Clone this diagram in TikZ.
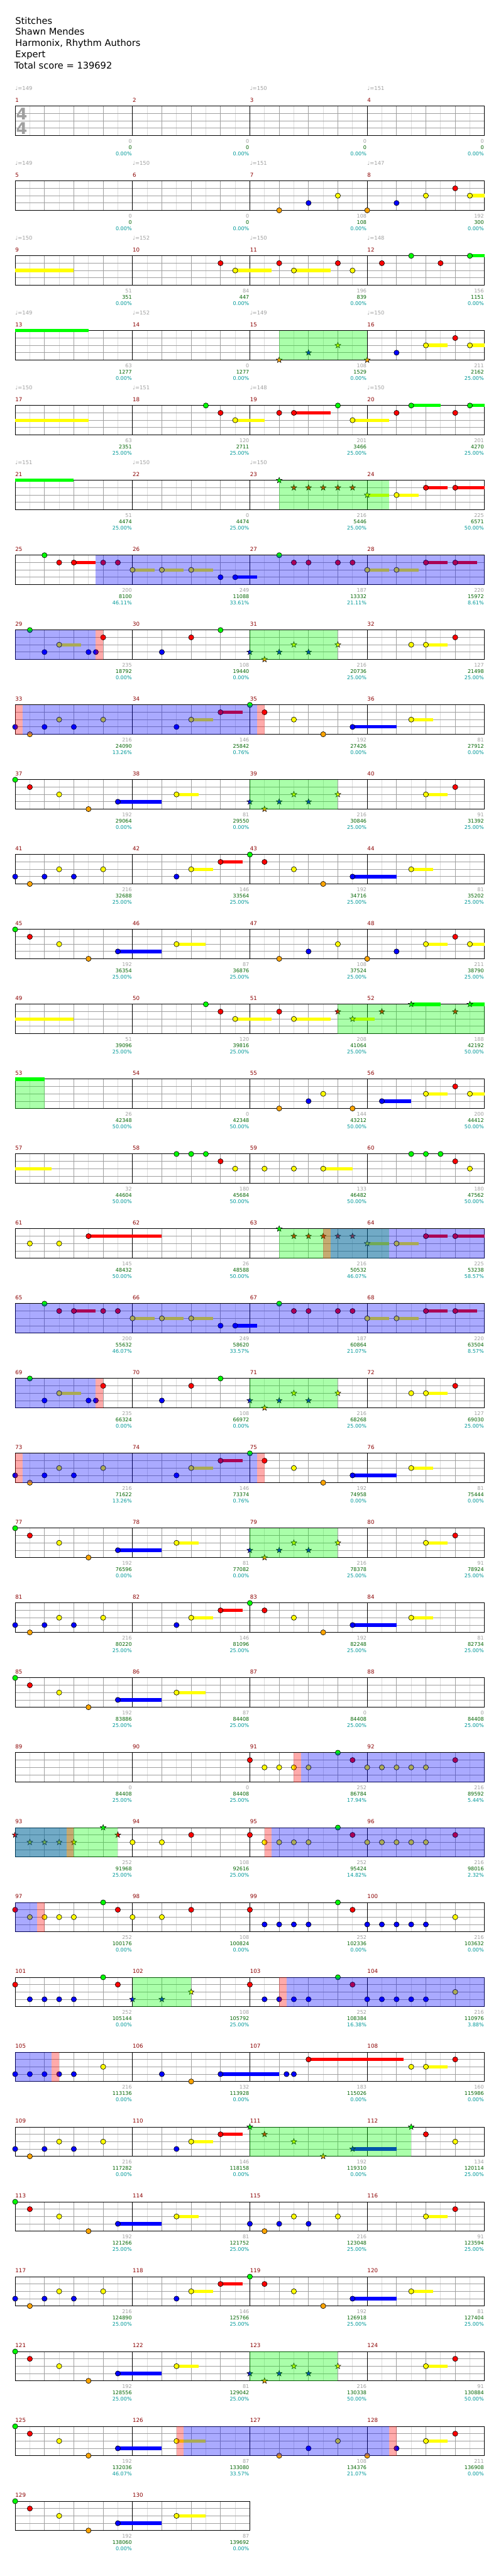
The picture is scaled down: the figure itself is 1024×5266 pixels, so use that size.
\documentclass[tikz,border=0pt]{standalone}
\usepackage{fontspec}
\setmainfont{DejaVu Sans}
\usetikzlibrary{shapes.geometric}
\definecolor{lc0}{RGB}{0,255,0}
\definecolor{lc1}{RGB}{255,0,0}
\definecolor{lc2}{RGB}{255,255,0}
\definecolor{lc3}{RGB}{0,0,255}
\definecolor{lc4}{RGB}{255,165,0}
\definecolor{gridd}{RGB}{160,160,160}
\definecolor{gridl}{RGB}{220,220,220}
\definecolor{txgrey}{RGB}{160,160,160}
\definecolor{txgreen}{RGB}{0,100,0}
\definecolor{txcyan}{RGB}{0,153,153}
\definecolor{mnum}{RGB}{139,0,0}
\definecolor{hlg}{RGB}{0,255,0}
\definecolor{hlb}{RGB}{0,0,255}
\definecolor{hlp}{RGB}{255,0,0}
\tikzset{
  starn/.style={star,star points=5,star point ratio=2.4,minimum size=6.2pt,inner sep=0pt,draw=black,line width=0.35pt},
  sttxt/.style={inner sep=0pt,font=\fontsize{5.2}{5.2}\selectfont},
  numtxt/.style={anchor=base west,inner sep=0pt,text=mnum,font=\fontsize{5.6}{5.6}\selectfont},
  tmptxt/.style={anchor=base west,inner sep=0pt,text=txgrey,font=\fontsize{5.4}{5.4}\selectfont},
  ttl/.style={anchor=base west,inner sep=0pt,font=\fontsize{9.4}{9.4}\selectfont}
}
% row: index, number of measures
\newcommand\Rw[2]{%
  \pgfmathsetmacro\ty{217+153*#1}%
  \pgfmathsetmacro\rx{31+240*#2}%
  \pgfmathtruncatemacro\nl{8*#2-1}%
  \fill[white] (31,\ty) rectangle (\rx,\ty+60);
  \foreach \i in {1,3,...,\nl}{\draw[gridl,line width=0.5pt] (31+30*\i,\ty) -- ++(0,60);}
  \foreach \j in {1,2,3}{\draw[gridd,line width=0.5pt] (31,\ty+15*\j) -- (\rx,\ty+15*\j);}
  \foreach \i in {2,4,...,\nl}{%
    \pgfmathtruncatemacro\mb{mod(\i,8)}%
    \ifnum\mb=0 \draw[black,line width=0.5pt] (31+30*\i,\ty) -- ++(0,60);
    \else \draw[gridd,line width=0.5pt] (31+30*\i,\ty) -- ++(0,60);\fi}
  \draw[black,line width=0.6pt] (31,\ty) rectangle (\rx,\ty+60);
}
% notes: row, lane, list of 16th positions
\newcommand\Nt[3]{\foreach \q in {#3}{\filldraw[fill=lc#2,draw=black,line width=0.4pt] (31+15*\q,217+153*#1+15*#2) circle (5.3);}}
\newcommand\St[3]{\foreach \q in {#3}{\node[starn,fill=lc#2] at (31+15*\q,217+153*#1+15*#2) {};}}
% sustain: row, lane, from, to
\newcommand\Su[4]{\fill[lc#2] (31+15*#3,217+153*#1+15*#2-3.4) rectangle (31+15*#4,217+153*#1+15*#2+3.4);}
% highlight: row, from, to, colour
\newcommand\Hl[4]{\fill[#4,fill opacity=0.3333] (31+15*#2,217+153*#1) rectangle (31+15*#3,217+153*#1+60);}
% measure number and stats: row, k, grey, green, pct
\newcommand\Ms[5]{%
  \node[numtxt] at (31+240*#2,217+153*#1-8) {\the\numexpr 4*#1+#2+1\relax};
  \node[sttxt,anchor=base east,text=txgrey] at (270+240*#2,217+153*#1+75) {#3};
  \node[sttxt,anchor=base east,text=txgreen] at (270+240*#2,217+153*#1+88) {#4};
  \node[sttxt,anchor=base east,text=txcyan] at (270+240*#2,217+153*#1+101) {#5};}
\newcommand\Tp[3]{\node[tmptxt] at (31+240*#2,217+153*#1-33) {♩=#3};}
% repeated patterns
\newcommand\PatA[1]{%
  \Su{#1}{1}{8}{11}\Su{#1}{2}{16}{19}\Su{#1}{2}{20}{23}\Su{#1}{2}{24}{27}\Su{#1}{3}{30}{33}
  \Su{#1}{2}{48}{51}\Su{#1}{2}{52}{55}\Su{#1}{1}{56}{59}\Su{#1}{1}{60}{63}
  \Nt{#1}{0}{4,36}\Nt{#1}{1}{6,8,12,14,38,40,44,46,56,60}\Nt{#1}{2}{16,20,24,48,52}\Nt{#1}{3}{28,30}}
\newcommand\PatB[1]{%
  \Su{#1}{2}{6}{9}\Su{#1}{2}{56}{59}
  \Nt{#1}{0}{2,28}\Nt{#1}{2}{6,54,56}\Nt{#1}{3}{4,10,11,20}\Nt{#1}{1}{12,24,60}
  \St{#1}{3}{32,36,40}\St{#1}{4}{34}\St{#1}{2}{38,44}
  \Hl{#1}{0}{11}{hlb}\Hl{#1}{11}{12}{hlp}\Hl{#1}{32}{44}{hlg}}
\newcommand\PatC[1]{%
  \Su{#1}{2}{24}{27}\Su{#1}{1}{28}{31}\Su{#1}{3}{46}{52}\Su{#1}{2}{54}{57}
  \Nt{#1}{3}{0,4,8,22,46}\Nt{#1}{4}{2,42}\Nt{#1}{2}{6,12,24,38,54}\Nt{#1}{1}{28,34}\Nt{#1}{0}{32}}
\newcommand\PatD[1]{%
  \Su{#1}{3}{14}{20}\Su{#1}{2}{22}{25}\Su{#1}{2}{56}{59}
  \Nt{#1}{0}{0}\Nt{#1}{1}{2,60}\Nt{#1}{2}{6,22,56}\Nt{#1}{4}{10}\Nt{#1}{3}{14}
  \St{#1}{3}{32,36,40}\St{#1}{4}{34}\St{#1}{2}{38,44}
  \Hl{#1}{32}{44}{hlg}}
\begin{document}
\begin{tikzpicture}[x=0.5pt,y=-0.5pt]
\useasboundingbox (0,0) rectangle (1024,5266);
\fill[white] (0,0) rectangle (1024,5266);
\node[ttl] (t1) at (31,49) {Stitches};
\node[ttl] (t2) at (31,72) {Shawn Mendes};
\node[ttl] (t3) at (31,95) {Harmonix, Rhythm Authors};
\node[ttl] (t4) at (31,118) {Expert};
\node[ttl] (t5) at (29,141) {Total score = 139692};
% ---------- row 0
\Rw{0}{4}
\node[text=txgrey,font=\fontsize{16.5}{16.5}\bfseries,inner sep=0] at (44.5,233) {4};
\node[text=txgrey,font=\fontsize{16.5}{16.5}\bfseries,inner sep=0] at (44.5,262) {4};
\Tp{0}{0}{149}\Tp{0}{2}{150}\Tp{0}{3}{151}
\Ms{0}{0}{0}{0}{0.00\%}\Ms{0}{1}{0}{0}{0.00\%}\Ms{0}{2}{0}{0}{0.00\%}\Ms{0}{3}{0}{0}{0.00\%}
% ---------- row 1
\Rw{1}{4}
\Tp{1}{0}{149}\Tp{1}{1}{150}\Tp{1}{2}{151}\Tp{1}{3}{147}
\Su{1}{2}{62}{64}
\Nt{1}{4}{36,48}\Nt{1}{3}{40,52}\Nt{1}{2}{44,56,62}\Nt{1}{1}{60}
\Ms{1}{0}{0}{0}{0.00\%}\Ms{1}{1}{0}{0}{0.00\%}\Ms{1}{2}{108}{108}{0.00\%}\Ms{1}{3}{192}{300}{0.00\%}
% ---------- row 2
\Rw{2}{4}
\Tp{2}{0}{150}\Tp{2}{1}{152}\Tp{2}{2}{150}\Tp{2}{3}{148}
\Su{2}{2}{0}{8}\Su{2}{2}{30}{35}\Su{2}{2}{38}{43}\Su{2}{0}{62}{64}
\Nt{2}{1}{28,36,44,50,58}\Nt{2}{2}{30,38,46}\Nt{2}{0}{54,62}
\Ms{2}{0}{51}{351}{0.00\%}\Ms{2}{1}{84}{447}{0.00\%}\Ms{2}{2}{196}{839}{0.00\%}\Ms{2}{3}{156}{1151}{0.00\%}
% ---------- row 3
\Rw{3}{4}
\Tp{3}{0}{149}\Tp{3}{1}{152}\Tp{3}{2}{149}\Tp{3}{3}{150}
\Su{3}{0}{0}{10}\Su{3}{2}{56}{59}\Su{3}{2}{62}{64}
\St{3}{4}{36,48}\St{3}{3}{40}\St{3}{2}{44}
\Nt{3}{3}{52}\Nt{3}{2}{56,62}\Nt{3}{1}{60}
\Hl{3}{36}{48}{hlg}
\Ms{3}{0}{63}{1277}{0.00\%}\Ms{3}{1}{0}{1277}{0.00\%}\Ms{3}{2}{108}{1529}{0.00\%}\Ms{3}{3}{211}{2162}{25.00\%}
% ---------- row 4
\Rw{4}{4}
\Tp{4}{0}{150}\Tp{4}{1}{151}\Tp{4}{2}{148}\Tp{4}{3}{150}
\Su{4}{2}{0}{10}\Su{4}{2}{30}{34}\Su{4}{1}{38}{43}\Su{4}{2}{46}{51}\Su{4}{0}{54}{58}\Su{4}{0}{62}{64}
\Nt{4}{0}{26,44,54,62}\Nt{4}{1}{28,36,38,52,60}\Nt{4}{2}{30,46}
\Ms{4}{0}{63}{2351}{25.00\%}\Ms{4}{1}{120}{2711}{25.00\%}\Ms{4}{2}{201}{3466}{25.00\%}\Ms{4}{3}{201}{4270}{25.00\%}
% ---------- row 5
\Rw{5}{4}
\Tp{5}{0}{151}\Tp{5}{1}{150}\Tp{5}{2}{150}
\Su{5}{0}{0}{8}\Su{5}{2}{48}{51}\Su{5}{2}{52}{55}\Su{5}{1}{56}{59}\Su{5}{1}{60}{64}
\St{5}{0}{36}\St{5}{1}{38,40,42,44,46}\St{5}{2}{48}
\Nt{5}{2}{52}\Nt{5}{1}{56,60}
\Hl{5}{36}{51}{hlg}
\Ms{5}{0}{51}{4474}{25.00\%}\Ms{5}{1}{0}{4474}{25.00\%}\Ms{5}{2}{216}{5446}{25.00\%}\Ms{5}{3}{225}{6571}{50.00\%}
% ---------- row 6
\Rw{6}{4}
\PatA{6}
\Hl{6}{11}{64}{hlb}
\Ms{6}{0}{200}{8100}{46.11\%}\Ms{6}{1}{249}{11088}{33.61\%}\Ms{6}{2}{187}{13332}{21.11\%}\Ms{6}{3}{220}{15972}{8.61\%}
% ---------- row 7
\Rw{7}{4}
\PatB{7}
\Ms{7}{0}{235}{18792}{0.00\%}\Ms{7}{1}{108}{19440}{0.00\%}\Ms{7}{2}{216}{20736}{25.00\%}\Ms{7}{3}{127}{21498}{25.00\%}
% ---------- row 8
\Rw{8}{4}
\PatC{8}
\Hl{8}{0}{1}{hlp}\Hl{8}{1}{33}{hlb}\Hl{8}{33}{34}{hlp}
\Ms{8}{0}{216}{24090}{13.26\%}\Ms{8}{1}{146}{25842}{0.76\%}\Ms{8}{2}{192}{27426}{0.00\%}\Ms{8}{3}{81}{27912}{0.00\%}
% ---------- row 9
\Rw{9}{4}
\PatD{9}
\Ms{9}{0}{192}{29064}{0.00\%}\Ms{9}{1}{81}{29550}{0.00\%}\Ms{9}{2}{216}{30846}{25.00\%}\Ms{9}{3}{91}{31392}{25.00\%}
% ---------- row 10
\Rw{10}{4}
\PatC{10}
\Ms{10}{0}{216}{32688}{25.00\%}\Ms{10}{1}{146}{33564}{25.00\%}\Ms{10}{2}{192}{34716}{25.00\%}\Ms{10}{3}{81}{35202}{25.00\%}
% ---------- row 11
\Rw{11}{4}
\Su{11}{3}{14}{20}\Su{11}{2}{22}{26}\Su{11}{2}{56}{59}\Su{11}{2}{62}{64}
\Nt{11}{0}{0}\Nt{11}{1}{2,60}\Nt{11}{2}{6,22,44,56,62}\Nt{11}{4}{10,36,48}\Nt{11}{3}{14,40,52}
\Ms{11}{0}{192}{36354}{25.00\%}\Ms{11}{1}{87}{36876}{25.00\%}\Ms{11}{2}{108}{37524}{25.00\%}\Ms{11}{3}{211}{38790}{25.00\%}
% ---------- row 12
\Rw{12}{4}
\Su{12}{2}{0}{8}\Su{12}{2}{30}{35}\Su{12}{2}{38}{43}\Su{12}{2}{46}{49}\Su{12}{0}{54}{58}\Su{12}{0}{62}{64}
\Nt{12}{0}{26}\Nt{12}{1}{28,36}\Nt{12}{2}{30,38}
\St{12}{1}{44,50,60}\St{12}{2}{46}\St{12}{0}{54,62}
\Hl{12}{44}{64}{hlg}
\Ms{12}{0}{51}{39096}{25.00\%}\Ms{12}{1}{120}{39816}{25.00\%}\Ms{12}{2}{208}{41064}{25.00\%}\Ms{12}{3}{188}{42192}{50.00\%}
% ---------- row 13
\Rw{13}{4}
\Su{13}{0}{0}{4}\Su{13}{3}{50}{54}\Su{13}{2}{56}{59}\Su{13}{2}{62}{64}
\Nt{13}{4}{36,46}\Nt{13}{3}{40,50}\Nt{13}{2}{42,56,62}\Nt{13}{1}{60}
\Hl{13}{0}{4}{hlg}
\Ms{13}{0}{26}{42348}{50.00\%}\Ms{13}{1}{0}{42348}{50.00\%}\Ms{13}{2}{144}{43212}{50.00\%}\Ms{13}{3}{200}{44412}{50.00\%}
% ---------- row 14
\Rw{14}{4}
\Su{14}{2}{0}{5}\Su{14}{2}{42}{46}
\Nt{14}{0}{22,24,26,54,56,58}\Nt{14}{1}{28,60}\Nt{14}{2}{30,34,38,42,62}
\Ms{14}{0}{32}{44604}{50.00\%}\Ms{14}{1}{180}{45684}{50.00\%}\Ms{14}{2}{133}{46482}{50.00\%}\Ms{14}{3}{180}{47562}{50.00\%}
% ---------- row 15
\Rw{15}{4}
\Su{15}{1}{10}{20}\Su{15}{2}{48}{51}\Su{15}{2}{52}{55}\Su{15}{1}{56}{59}\Su{15}{1}{60}{64}
\Nt{15}{2}{2,6}\Nt{15}{1}{10}
\St{15}{0}{36}\St{15}{1}{38,40,42,44,46}\St{15}{2}{48}
\Nt{15}{2}{52}\Nt{15}{1}{56,60}
\Hl{15}{36}{51}{hlg}\Hl{15}{42}{43}{hlp}\Hl{15}{43}{64}{hlb}
\Ms{15}{0}{145}{48432}{50.00\%}\Ms{15}{1}{26}{48588}{50.00\%}\Ms{15}{2}{216}{50532}{46.07\%}\Ms{15}{3}{225}{53238}{58.57\%}
% ---------- row 16
\Rw{16}{4}
\PatA{16}
\Hl{16}{0}{64}{hlb}
\Ms{16}{0}{200}{55632}{46.07\%}\Ms{16}{1}{249}{58620}{33.57\%}\Ms{16}{2}{187}{60864}{21.07\%}\Ms{16}{3}{220}{63504}{8.57\%}
% ---------- row 17
\Rw{17}{4}
\PatB{17}
\Ms{17}{0}{235}{66324}{0.00\%}\Ms{17}{1}{108}{66972}{0.00\%}\Ms{17}{2}{216}{68268}{25.00\%}\Ms{17}{3}{127}{69030}{25.00\%}
% ---------- row 18
\Rw{18}{4}
\PatC{18}
\Hl{18}{0}{1}{hlp}\Hl{18}{1}{33}{hlb}\Hl{18}{33}{34}{hlp}
\Ms{18}{0}{216}{71622}{13.26\%}\Ms{18}{1}{146}{73374}{0.76\%}\Ms{18}{2}{192}{74958}{0.00\%}\Ms{18}{3}{81}{75444}{0.00\%}
% ---------- row 19
\Rw{19}{4}
\PatD{19}
\Ms{19}{0}{192}{76596}{0.00\%}\Ms{19}{1}{81}{77082}{0.00\%}\Ms{19}{2}{216}{78378}{25.00\%}\Ms{19}{3}{91}{78924}{25.00\%}
% ---------- row 20
\Rw{20}{4}
\PatC{20}
\Ms{20}{0}{216}{80220}{25.00\%}\Ms{20}{1}{146}{81096}{25.00\%}\Ms{20}{2}{192}{82248}{25.00\%}\Ms{20}{3}{81}{82734}{25.00\%}
% ---------- row 21
\Rw{21}{4}
\Su{21}{3}{14}{20}\Su{21}{2}{22}{26}
\Nt{21}{0}{0}\Nt{21}{1}{2}\Nt{21}{2}{6,22}\Nt{21}{4}{10}\Nt{21}{3}{14}
\Ms{21}{0}{192}{83886}{25.00\%}\Ms{21}{1}{87}{84408}{25.00\%}\Ms{21}{2}{0}{84408}{25.00\%}\Ms{21}{3}{0}{84408}{25.00\%}
% ---------- row 22
\Rw{22}{4}
\Nt{22}{1}{32,46,60}\Nt{22}{2}{34,36,38,40,48,50,52,54,56}\Nt{22}{0}{44}
\Hl{22}{38}{39}{hlp}\Hl{22}{39}{64}{hlb}
\Ms{22}{0}{0}{84408}{25.00\%}\Ms{22}{1}{0}{84408}{25.00\%}\Ms{22}{2}{252}{86784}{17.94\%}\Ms{22}{3}{216}{89592}{5.44\%}
% ---------- row 23
\Rw{23}{4}
\St{23}{1}{0,14}\St{23}{2}{2,4,6,8}\St{23}{0}{12}
\Nt{23}{2}{16,20,34,36,38,40,48,50,52,54,56}\Nt{23}{1}{24,32,46,60}\Nt{23}{0}{44}
\Hl{23}{0}{14}{hlg}\Hl{23}{0}{7}{hlb}\Hl{23}{7}{8}{hlp}\Hl{23}{34}{35}{hlp}\Hl{23}{35}{64}{hlb}
\Ms{23}{0}{252}{91968}{25.00\%}\Ms{23}{1}{108}{92616}{25.00\%}\Ms{23}{2}{252}{95424}{14.82\%}\Ms{23}{3}{216}{98016}{2.32\%}
% ---------- row 24
\Rw{24}{4}
\Nt{24}{1}{0,14,24,32,46}\Nt{24}{2}{2,4,6,8,16,20,60}\Nt{24}{0}{12,44}\Nt{24}{3}{34,36,38,40,48,50,52,54,56}
\Hl{24}{0}{3}{hlb}\Hl{24}{3}{4}{hlp}
\Ms{24}{0}{252}{100176}{0.00\%}\Ms{24}{1}{108}{100824}{0.00\%}\Ms{24}{2}{252}{102336}{0.00\%}\Ms{24}{3}{216}{103632}{0.00\%}
% ---------- row 25
\Rw{25}{4}
\Nt{25}{1}{0,14,32,46}\Nt{25}{3}{2,4,6,8,34,36,38,40,48,50,52,54,56}\Nt{25}{0}{12,44}\Nt{25}{2}{60}
\St{25}{3}{16,20}\St{25}{2}{24}
\Hl{25}{16}{24}{hlg}\Hl{25}{36}{37}{hlp}\Hl{25}{37}{64}{hlb}
\Ms{25}{0}{252}{105144}{0.00\%}\Ms{25}{1}{108}{105792}{25.00\%}\Ms{25}{2}{252}{108384}{16.38\%}\Ms{25}{3}{216}{110976}{3.88\%}
% ---------- row 26
\Rw{26}{4}
\Su{26}{3}{28}{36}\Su{26}{1}{40}{53}\Su{26}{2}{56}{59}
\Nt{26}{3}{0,2,4,6,8,20,28,37,38}\Nt{26}{2}{12,54,56}\Nt{26}{4}{24}\Nt{26}{1}{40,60}
\Hl{26}{0}{5}{hlb}\Hl{26}{5}{6}{hlp}
\Ms{26}{0}{216}{113136}{0.00\%}\Ms{26}{1}{132}{113928}{0.00\%}\Ms{26}{2}{183}{115026}{0.00\%}\Ms{26}{3}{160}{115986}{0.00\%}
% ---------- row 27
\Rw{27}{4}
\Su{27}{2}{24}{27}\Su{27}{1}{28}{31}\Su{27}{3}{46}{52}
\Nt{27}{3}{0,4,8,22}\Nt{27}{4}{2}\Nt{27}{2}{6,12,24,60}\Nt{27}{1}{28,56}
\St{27}{0}{32,54}\St{27}{1}{34}\St{27}{2}{38}\St{27}{4}{42}\St{27}{3}{46}
\Hl{27}{32}{54}{hlg}
\Ms{27}{0}{216}{117282}{0.00\%}\Ms{27}{1}{146}{118158}{0.00\%}\Ms{27}{2}{192}{119310}{0.00\%}\Ms{27}{3}{134}{120114}{25.00\%}
% ---------- row 28
\Rw{28}{4}
\Su{28}{3}{14}{20}\Su{28}{2}{22}{25}\Su{28}{2}{56}{59}
\Nt{28}{0}{0}\Nt{28}{1}{2,60}\Nt{28}{2}{6,22,38,44,56}\Nt{28}{4}{10,34}\Nt{28}{3}{14,32,36,40}
\Ms{28}{0}{192}{121266}{25.00\%}\Ms{28}{1}{81}{121752}{25.00\%}\Ms{28}{2}{216}{123048}{25.00\%}\Ms{28}{3}{91}{123594}{25.00\%}
% ---------- row 29
\Rw{29}{4}
\PatC{29}
\Ms{29}{0}{216}{124890}{25.00\%}\Ms{29}{1}{146}{125766}{25.00\%}\Ms{29}{2}{192}{126918}{25.00\%}\Ms{29}{3}{81}{127404}{25.00\%}
% ---------- row 30
\Rw{30}{4}
\PatD{30}
\Ms{30}{0}{192}{128556}{25.00\%}\Ms{30}{1}{81}{129042}{25.00\%}\Ms{30}{2}{216}{130338}{50.00\%}\Ms{30}{3}{91}{130884}{50.00\%}
% ---------- row 31
\Rw{31}{4}
\Su{31}{3}{14}{20}\Su{31}{2}{22}{26}\Su{31}{2}{56}{59}
\Nt{31}{0}{0}\Nt{31}{1}{2,60}\Nt{31}{2}{6,22,44,56}\Nt{31}{4}{10,36,48}\Nt{31}{3}{14,40,52}
\Hl{31}{22}{23}{hlp}\Hl{31}{23}{51}{hlb}\Hl{31}{51}{52}{hlp}
\Ms{31}{0}{192}{132036}{46.07\%}\Ms{31}{1}{87}{133080}{33.57\%}\Ms{31}{2}{108}{134376}{21.07\%}\Ms{31}{3}{211}{136908}{0.00\%}
% ---------- row 32
\Rw{32}{2}
\Su{32}{3}{14}{20}\Su{32}{2}{22}{26}
\Nt{32}{0}{0}\Nt{32}{1}{2}\Nt{32}{2}{6,22}\Nt{32}{4}{10}\Nt{32}{3}{14}
\Ms{32}{0}{192}{138060}{0.00\%}\Ms{32}{1}{87}{139692}{0.00\%}
\end{tikzpicture}
\end{document}
